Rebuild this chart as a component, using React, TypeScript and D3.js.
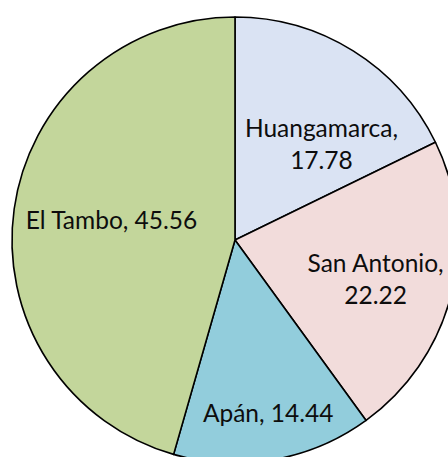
import React from "react";
import * as d3 from "d3";

const categories = ["Huangamarca", "San Antonio", "Apán", "El Tambo"];
const values = [17.78, 22.22, 14.44, 45.56];
const colors = ["#dae3f3", "#f2dcdb", "#92cddc", "#c3d69b"];
// where each data label sits (fraction of radius, angle nudge in degrees)
const labelRadius = [0.577, 0.656, 0.793, 0.56];
const labelNudge = [10.2, 2.0, -0.8, 0.6];
const twoLine = [true, true, false, false];

const width = 448;
const height = 457;
const cx = 235;
const cy = 240;
const radius = 223;

export default function App() {
  const pie = d3.pie<number>().value(d => d).sort(null);
  const arcs = pie(values);
  const arc = d3.arc<d3.PieArcDatum<number>>().innerRadius(0).outerRadius(radius);

  return (
    <svg
      width={width}
      height={height}
      style={{ position: "fixed", left: 0, top: 0, background: "#fff" }}
      fontFamily="Lato, 'Open Sans', sans-serif"
    >
      <g transform={`translate(${cx},${cy})`}>
        {arcs.map((a, i) => (
          <path key={i} d={arc(a) || ""} fill={colors[i]} stroke="#000" strokeWidth={1.6} strokeLinejoin="round" />
        ))}
        {arcs.map((a, i) => {
          const mid = (a.startAngle + a.endAngle) / 2 + (labelNudge[i] * Math.PI) / 180;
          const [x, y] = d3.pointRadial(mid, radius * labelRadius[i]);
          const val = d3.format(".2f")(values[i]);
          if (twoLine[i]) {
            return (
              <text key={i} x={x} y={y} textAnchor="middle" fontSize={24.5} fill="#0d0d0d">
                <tspan x={x} dy={-8}>{categories[i] + ","}</tspan>
                <tspan x={x} dy={32}>{val}</tspan>
              </text>
            );
          }
          return (
            <text key={i} x={x} y={y} dy={8} textAnchor="middle" fontSize={24.5} fill="#0d0d0d">
              {categories[i] + ", " + val}
            </text>
          );
        })}
      </g>
    </svg>
  );
}
